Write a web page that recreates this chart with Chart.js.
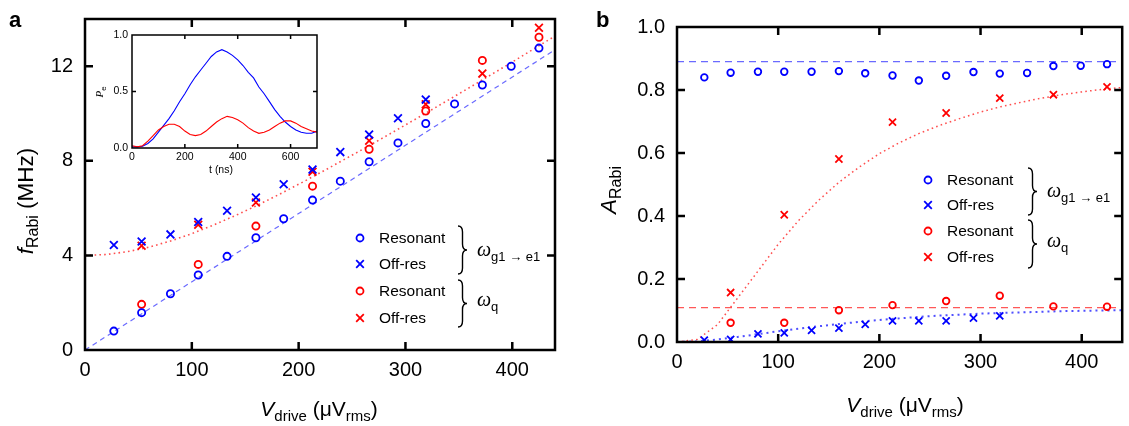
<!DOCTYPE html>
<html>
<head>
<meta charset="utf-8">
<script src="https://cdn.jsdelivr.net/npm/chart.js@4.4.1/dist/chart.umd.min.js"></script>
<style>
  html, body { margin: 0; padding: 0; background: #fff; }
  #wrap { position: relative; width: 1129px; height: 426px; overflow: hidden; }
  canvas { position: absolute; }
</style>
</head>
<body>
<div id="wrap">
  <canvas id="ca" width="565" height="426" style="left:0;top:0"></canvas>
  <canvas id="cb" width="564" height="426" style="left:565px;top:0"></canvas>
  <canvas id="ci" width="240" height="175" style="left:90px;top:25px"></canvas>
</div>
<script>
// drive amplitudes (uV rms)
const xDrive = [27, 53, 80, 106, 133, 160, 186, 213, 239, 266, 293, 319, 346, 372, 399, 425];
const xQ = [53, 106, 160, 213, 266, 319, 372, 425];

// panel a: Rabi frequency (MHz)
const aResG = [0.80, 1.58, 2.38, 3.17, 3.96, 4.75, 5.55, 6.34, 7.14, 7.96, 8.76, 9.58, 10.41, 11.21, 12.00, 12.77];
const aOffG = [4.44, 4.59, 4.89, 5.41, 5.89, 6.45, 7.01, 7.63, 8.37, 9.11, 9.80, 10.59];
const aResQ = [1.93, 3.62, 5.24, 6.93, 8.49, 10.11, 12.25, 13.23];
const aOffQ = [4.41, 5.30, 6.24, 7.54, 8.85, 10.39, 11.69, 13.63];

// panel b: Rabi amplitude
const bResG = [0.840, 0.855, 0.858, 0.858, 0.858, 0.860, 0.853, 0.846, 0.830, 0.845, 0.857, 0.852, 0.854, 0.876, 0.877, 0.882];
const bOffG = [0.006, 0.008, 0.026, 0.029, 0.037, 0.044, 0.056, 0.067, 0.067, 0.067, 0.076, 0.083];
const bResQ = [0.061, 0.061, 0.101, 0.117, 0.130, 0.147, 0.113, 0.112];
const bOffQ = [0.157, 0.404, 0.581, 0.698, 0.727, 0.774, 0.785, 0.810];

// fit curves
const fitX = [0, 20, 40, 60, 80, 100, 120, 140, 160, 180, 200, 220, 240, 260, 280, 300, 320, 340, 360, 380, 400, 420, 440];
const aFitQ = [4.0, 4.04, 4.16, 4.35, 4.61, 4.92, 5.28, 5.67, 6.09, 6.54, 7.01, 7.49, 7.99, 8.49, 9.0, 9.52, 10.04, 10.57, 11.1, 11.64, 12.18, 12.73, 13.28];
const lineX = [0, 440];
const aFitG = [0, 12.7];
const bFlatG = [0.89, 0.89];
const bFlatQ = [0.109, 0.109];
const bFitQ = [0, 0.008, 0.055, 0.14, 0.225, 0.31, 0.385, 0.45, 0.507, 0.555, 0.598, 0.633, 0.663, 0.688, 0.71, 0.73, 0.747, 0.761, 0.774, 0.785, 0.794, 0.802, 0.808];
const bFitG = [0, 0.002, 0.008, 0.016, 0.025, 0.034, 0.042, 0.05, 0.057, 0.064, 0.07, 0.075, 0.08, 0.084, 0.087, 0.09, 0.092, 0.094, 0.096, 0.098, 0.099, 0.1, 0.101];

// inset: excited state population vs time (ns)
const tNs = [0, 20, 40, 60, 80, 100, 120, 140, 160, 180, 200, 220, 240, 260, 280, 300, 320, 340, 360, 380, 400, 420, 440, 460, 480, 500, 520, 540, 560, 580, 600, 620, 640, 660, 680, 700];
const inBlue = [0.01, 0.01, 0.015, 0.04, 0.08, 0.14, 0.20, 0.26, 0.33, 0.41, 0.48, 0.56, 0.63, 0.69, 0.75, 0.81, 0.85, 0.87, 0.85, 0.82, 0.78, 0.73, 0.67, 0.62, 0.54, 0.48, 0.41, 0.34, 0.28, 0.23, 0.19, 0.16, 0.14, 0.13, 0.13, 0.15];
const inRed = [0.02, 0.01, 0.02, 0.06, 0.11, 0.16, 0.19, 0.21, 0.21, 0.19, 0.15, 0.12, 0.11, 0.12, 0.15, 0.19, 0.23, 0.26, 0.28, 0.27, 0.25, 0.22, 0.18, 0.15, 0.13, 0.14, 0.16, 0.19, 0.22, 0.24, 0.24, 0.22, 0.19, 0.17, 0.15, 0.14];

const BLUE = '#0000ff';
const RED = '#ff0000';
const SANS = '"Liberation Sans", Arial, Helvetica, sans-serif';
const SERIF = '"Liberation Serif", "Times New Roman", serif';

function pts(xs, ys) {
  return ys.map((v, i) => ({ x: xs[i], y: v }));
}

function marks(xs, ys, color, style, r) {
  return {
    data: pts(xs, ys), showLine: false, order: 1,
    pointStyle: style, pointRadius: r, pointBorderWidth: 1.8,
    pointBorderColor: color, pointBackgroundColor: 'rgba(0,0,0,0)'
  };
}

function fit(xs, ys, color, dash, w) {
  return {
    data: pts(xs, ys), showLine: true, order: 2, pointRadius: 0,
    borderColor: color, borderWidth: w, borderDash: dash, fill: false
  };
}

// text with subscripts: parts = [text, font, dy]
function rich(ctx, parts, x, y, align, rot) {
  ctx.save();
  ctx.translate(x, y);
  if (rot) ctx.rotate(rot);
  let w = 0;
  parts.forEach(p => { ctx.font = p[1]; w += ctx.measureText(p[0]).width; });
  let cx = align === 'center' ? -w / 2 : align === 'right' ? -w : 0;
  ctx.textAlign = 'left';
  ctx.textBaseline = 'alphabetic';
  ctx.fillStyle = '#000';
  parts.forEach(p => {
    ctx.font = p[1];
    ctx.fillText(p[0], cx, p[2] || 0);
    cx += ctx.measureText(p[0]).width;
  });
  ctx.restore();
}

function brace(ctx, x, y0, y1, w) {
  const ym = (y0 + y1) / 2, r = 6, m = x + w / 2;
  ctx.save();
  ctx.strokeStyle = '#000';
  ctx.lineWidth = 1.4;
  ctx.beginPath();
  ctx.moveTo(x, y0);
  ctx.quadraticCurveTo(m, y0, m, y0 + r);
  ctx.lineTo(m, ym - r);
  ctx.quadraticCurveTo(m, ym, x + w, ym);
  ctx.quadraticCurveTo(m, ym, m, ym + r);
  ctx.lineTo(m, y1 - r);
  ctx.quadraticCurveTo(m, y1, x, y1);
  ctx.stroke();
  ctx.restore();
}

function legendMark(ctx, kind, color, x, y) {
  ctx.save();
  ctx.strokeStyle = color;
  ctx.lineWidth = 1.8;
  ctx.beginPath();
  if (kind === 'o') {
    ctx.arc(x, y, 3.5, 0, Math.PI * 2);
  } else {
    const h = 3.8;
    ctx.moveTo(x - h, y - h); ctx.lineTo(x + h, y + h);
    ctx.moveTo(x - h, y + h); ctx.lineTo(x + h, y - h);
  }
  ctx.stroke();
  ctx.restore();
}

// frame, inward ticks, labels, legend
function framePlugin(o) {
  return {
    id: 'frame',
    beforeDatasetsDraw(chart) {
      if (!o.white) return;
      const { ctx, chartArea: a } = chart;
      ctx.save();
      ctx.fillStyle = '#fff';
      ctx.fillRect(a.left, a.top, a.right - a.left, a.bottom - a.top);
      ctx.restore();
    },
    afterDatasetsDraw(chart) {
      const { ctx, chartArea: a } = chart;
      const sx = chart.scales.x, sy = chart.scales.y;
      ctx.save();
      ctx.strokeStyle = '#000';
      ctx.lineWidth = o.lw;
      ctx.beginPath();
      o.xt.forEach(v => {
        const p = sx.getPixelForValue(v);
        ctx.moveTo(p, a.bottom); ctx.lineTo(p, a.bottom - o.tl);
        ctx.moveTo(p, a.top); ctx.lineTo(p, a.top + o.tl);
      });
      o.yt.forEach(v => {
        const p = sy.getPixelForValue(v);
        ctx.moveTo(a.left, p); ctx.lineTo(a.left + o.tl, p);
        ctx.moveTo(a.right, p); ctx.lineTo(a.right - o.tl, p);
      });
      ctx.stroke();
      ctx.strokeRect(a.left, a.top, a.right - a.left, a.bottom - a.top);

      ctx.fillStyle = '#000';
      ctx.font = o.tickFont;
      ctx.textBaseline = 'middle';
      ctx.textAlign = 'center';
      o.xl.forEach((v, i) => ctx.fillText(o.xlText[i], sx.getPixelForValue(v), a.bottom + o.xlGap));
      ctx.textAlign = 'right';
      o.yl.forEach((v, i) => ctx.fillText(o.ylText[i], a.left - o.ylGap, sy.getPixelForValue(v)));
      ctx.restore();
      if (o.extra) o.extra(ctx, chart);
    }
  };
}

function legendBlock(ctx, mx, tx, rows, b1, b2, bx, wx, wy1, wy2) {
  const items = [['o', BLUE, 'Resonant'], ['x', BLUE, 'Off-res'], ['o', RED, 'Resonant'], ['x', RED, 'Off-res']];
  items.forEach((it, i) => {
    legendMark(ctx, it[0], it[1], mx, rows[i]);
    ctx.save();
    ctx.fillStyle = '#000';
    ctx.font = '15.5px ' + SANS;
    ctx.textBaseline = 'middle';
    ctx.textAlign = 'left';
    ctx.fillText(it[2], tx, rows[i] + 0.5);
    ctx.restore();
  });
  brace(ctx, bx, b1[0], b1[1], 9);
  brace(ctx, bx, b2[0], b2[1], 9);
  rich(ctx, [['ω', 'italic 20px ' + SERIF], ['g1 → e1', '13px ' + SANS, 5]], wx, wy1, 'left');
  rich(ctx, [['ω', 'italic 20px ' + SERIF], ['q', '13px ' + SANS, 5]], wx, wy2, 'left');
}

function baseOptions(pad, ymax, xmax) {
  return {
    responsive: false, animation: false, devicePixelRatio: 1,
    layout: { padding: pad },
    plugins: { legend: { display: false }, tooltip: { enabled: false } },
    elements: { line: { tension: 0 } },
    scales: {
      x: { type: 'linear', min: 0, max: xmax, display: false },
      y: { type: 'linear', min: 0, max: ymax, display: false }
    }
  };
}

// ---- panel a ----
new Chart(document.getElementById('ca'), {
  type: 'scatter',
  data: {
    datasets: [
      marks(xDrive, aResG, BLUE, 'circle', 3.6),
      marks(xDrive, aOffG, BLUE, 'crossRot', 5.5),
      marks(xQ, aResQ, RED, 'circle', 3.6),
      marks(xQ, aOffQ, RED, 'crossRot', 5.5),
      fit(lineX, aFitG, 'rgba(80,80,255,0.85)', [5, 4], 1.2),
      fit(fitX, aFitQ, 'rgba(255,60,60,0.9)', [1.6, 3.2], 1.6)
    ]
  },
  options: baseOptions({ left: 85, right: 10, top: 19, bottom: 76 }, 14, 440),
  plugins: [framePlugin({
    lw: 2.5, tl: 8,
    xt: [100, 200, 300, 400], yt: [4, 8, 12],
    xl: [0, 100, 200, 300, 400], xlText: ['0', '100', '200', '300', '400'], xlGap: 20,
    yl: [0, 4, 8, 12], ylText: ['0', '4', '8', '12'], ylGap: 12,
    tickFont: '20px ' + SANS,
    extra(ctx) {
      ctx.save();
      ctx.fillStyle = '#000';
      ctx.font = 'bold 22px ' + SANS;
      ctx.textAlign = 'left';
      ctx.textBaseline = 'alphabetic';
      ctx.fillText('a', 9, 27);
      ctx.restore();
      const big = '21px ' + SANS, sub = '15px ' + SANS;
      const bigY = '22.5px ' + SANS, subY = '16px ' + SANS;
      rich(ctx, [['V', 'italic ' + big], ['drive', sub, 5], [' (μV', big], ['rms', sub, 5], [')', big]], 319, 416, 'center');
      rich(ctx, [['f', 'italic ' + bigY], ['Rabi', subY, 5], [' (MHz)', bigY]], 33, 201, 'center', -Math.PI / 2);
      legendBlock(ctx, 360, 379, [238, 264, 291, 318], [226, 274], [280, 327], 458, 477, 256, 306);
    }
  })]
});

// ---- panel b ----
new Chart(document.getElementById('cb'), {
  type: 'scatter',
  data: {
    datasets: [
      marks(xDrive, bResG, BLUE, 'circle', 3.3),
      marks(xDrive, bOffG, BLUE, 'crossRot', 5),
      marks(xQ, bResQ, RED, 'circle', 3.3),
      marks(xQ, bOffQ, RED, 'crossRot', 5),
      fit(lineX, bFlatG, 'rgba(80,80,255,0.85)', [7, 5], 1.2),
      fit(lineX, bFlatQ, 'rgba(255,70,70,0.9)', [7, 5], 1.2),
      fit(fitX, bFitQ, 'rgba(255,60,60,0.9)', [1.6, 3.2], 1.5),
      fit(fitX, bFitG, 'rgba(60,60,255,0.9)', [2, 4], 2)
    ]
  },
  options: baseOptions({ left: 112, right: 1, top: 27, bottom: 84 }, 1, 440),
  plugins: [framePlugin({
    lw: 2.5, tl: 8,
    xt: [100, 200, 300, 400], yt: [0.2, 0.4, 0.6, 0.8],
    xl: [0, 100, 200, 300, 400], xlText: ['0', '100', '200', '300', '400'], xlGap: 20,
    yl: [0, 0.2, 0.4, 0.6, 0.8, 1.0], ylText: ['0.0', '0.2', '0.4', '0.6', '0.8', '1.0'], ylGap: 12,
    tickFont: '20px ' + SANS,
    extra(ctx) {
      ctx.save();
      ctx.fillStyle = '#000';
      ctx.font = 'bold 22px ' + SANS;
      ctx.textAlign = 'left';
      ctx.textBaseline = 'alphabetic';
      ctx.fillText('b', 31, 27);
      ctx.restore();
      const big = '21px ' + SANS, sub = '15px ' + SANS;
      rich(ctx, [['V', 'italic ' + big], ['drive', sub, 5], [' (μV', big], ['rms', sub, 5], [')', big]], 340, 412, 'center');
      rich(ctx, [['A', 'italic 22.5px ' + SANS], ['Rabi', '16px ' + SANS, 5]], 51, 190, 'center', -Math.PI / 2);
      legendBlock(ctx, 363, 382, [180, 205, 231, 257], [168, 215], [220, 268], 463, 482, 197, 247);
    }
  })]
});

// ---- inset ----
new Chart(document.getElementById('ci'), {
  type: 'scatter',
  data: {
    datasets: [
      fit(tNs, inRed, RED, [], 1.1),
      fit(tNs, inBlue, BLUE, [], 1.1)
    ]
  },
  options: baseOptions({ left: 42, right: 13, top: 10, bottom: 52 }, 1, 700),
  plugins: [framePlugin({
    white: true, lw: 1.5, tl: 4,
    xt: [200, 400, 600], yt: [0.5],
    xl: [0, 200, 400, 600], xlText: ['0', '200', '400', '600'], xlGap: 9,
    yl: [0, 0.5, 1.0], ylText: ['0.0', '0.5', '1.0'], ylGap: 4,
    tickFont: '10.5px ' + SANS,
    extra(ctx) {
      ctx.save();
      ctx.fillStyle = '#000';
      ctx.font = '10.5px ' + SANS;
      ctx.textAlign = 'center';
      ctx.textBaseline = 'middle';
      ctx.fillText('t (ns)', 131, 145);
      ctx.restore();
      rich(ctx, [['P', 'italic 11px ' + SERIF], ['e', '8px ' + SANS, 3]], 13, 67, 'center', -Math.PI / 2);
    }
  })]
});
</script>
</body>
</html>
